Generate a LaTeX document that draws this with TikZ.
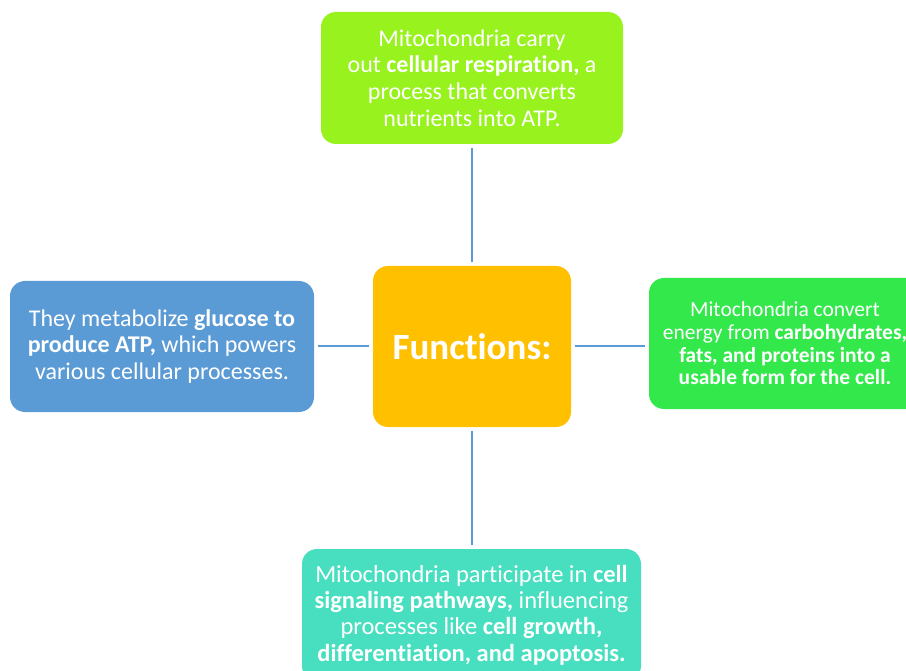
\documentclass[tikz,border=0pt]{standalone}
\usepackage{fontspec}
\setmainfont[Ligatures=NoCommon]{Carlito}
\usetikzlibrary{positioning}
\definecolor{limefill}{RGB}{152,242,30}
\definecolor{orangefill}{RGB}{255,192,0}
\definecolor{bluefill}{RGB}{91,155,213}
\definecolor{greenfill}{RGB}{50,232,75}
\definecolor{tealfill}{RGB}{72,223,192}
\definecolor{linkblue}{RGB}{91,155,213}

\begin{document}
\begin{tikzpicture}[x=1pt, y=-1pt,
    box/.style={rectangle, rounded corners=15pt, text=white, align=center, inner sep=0pt},
    topbox/.style={box, fill=limefill, minimum width=302pt, minimum height=132pt, font=\fontsize{24}{26.7}\selectfont},
    hub/.style={box, fill=orangefill, minimum width=198pt, minimum height=161pt, font=\fontsize{37}{40}\selectfont\bfseries},
    leftbox/.style={box, fill=bluefill, minimum width=304pt, minimum height=131pt, font=\fontsize{24}{26.5}\selectfont},
    rightbox/.style={box, fill=greenfill, minimum width=272pt, minimum height=131pt, font=\fontsize{21.5}{22.7}\selectfont},
    bottombox/.style={box, fill=tealfill, minimum width=339pt, minimum height=132pt, font=\fontsize{24.5}{26.4}\selectfont},
    link/.style={draw=linkblue, line width=2pt, shorten <=3.5pt, shorten >=3.5pt}
]
    \useasboundingbox (0,0) rectangle (906,671);
    \clip (0,0) rectangle (906,671);

    % Central node and surrounding functions
    \node[hub] (functions) at (472,346.5) {Functions:};
    \node[topbox] (respiration) at (472,78) {Mitochondria carry\\out \textbf{cellular respiration,} a\\process that converts\\nutrients into ATP.};
    \node[leftbox] (glucose) at (162,346.5) {They metabolize \textbf{glucose to}\\\textbf{produce ATP,} which powers\\various cellular processes.};
    \node[rightbox] (energy) at (785,343.5) {Mitochondria convert\\energy from \textbf{carbohydrates,}\\\textbf{fats, and proteins into a}\\\textbf{usable form for the cell.}};
    \node[bottombox] (signaling) at (471.5,615) {Mitochondria participate in \textbf{cell}\\\textbf{signaling pathways,} influencing\\processes like \textbf{cell growth,}\\\textbf{differentiation, and apoptosis.}};

    % Connections
    \draw[link] (functions.north) -- (functions.north |- respiration.south);
    \draw[link] (functions.west) -- (functions.west -| glucose.east);
    \draw[link] (functions.east) -- (functions.east -| energy.west);
    \draw[link] (functions.south) -- (functions.south |- signaling.north);
\end{tikzpicture}
\end{document}
